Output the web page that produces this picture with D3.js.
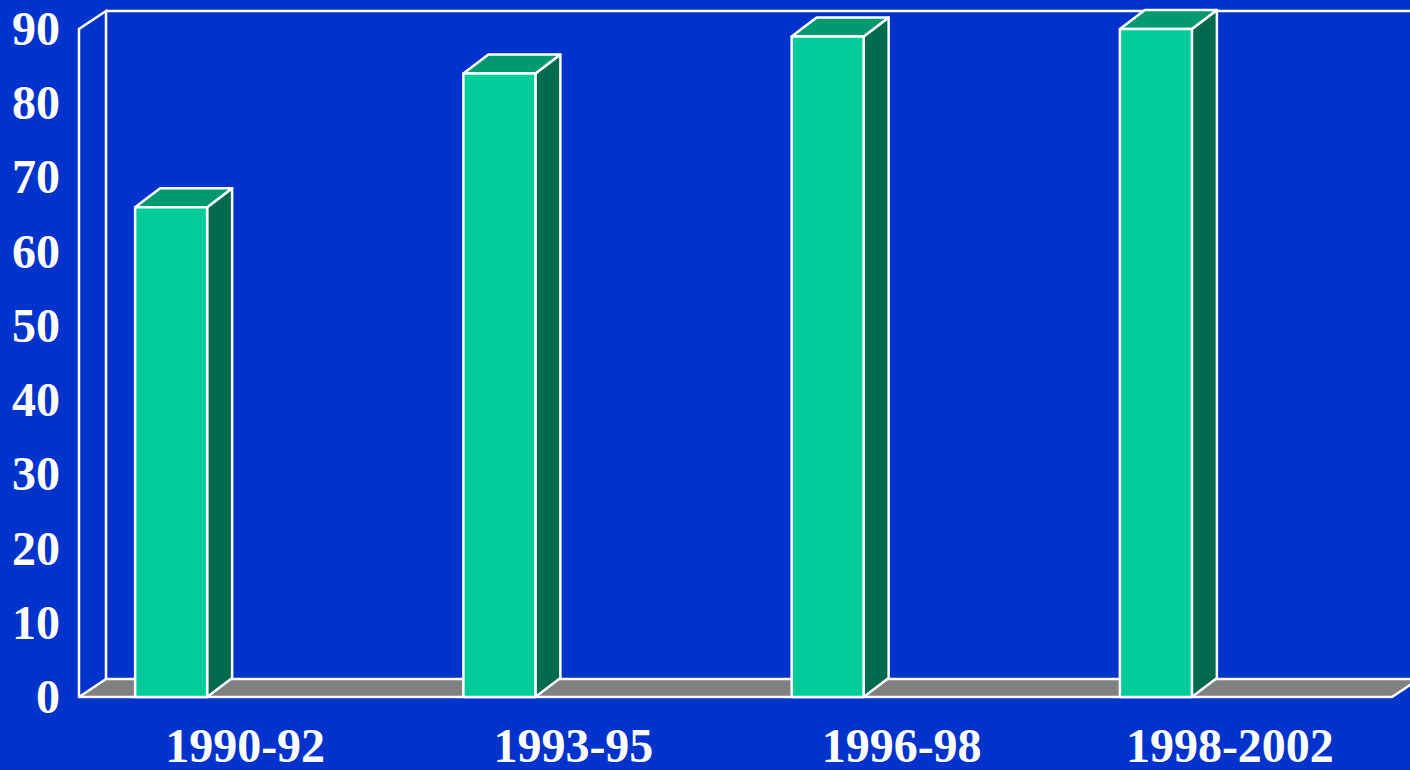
<!DOCTYPE html>
<html>
<head>
<meta charset="utf-8">
<script src="https://cdn.jsdelivr.net/npm/d3@7"></script>
<style>
body { margin: 0; background: #0033CC; }
svg { display: block; }
</style>
</head>
<body>
<div id="chart"></div>
<script>
//Width and height
var w = 1410;
var h = 770;

//Data
var categories = ["1990-92", "1993-95", "1996-98", "1998-2002"];
var values = [66, 84, 89, 90];
var yTicks = [0, 10, 20, 30, 40, 50, 60, 70, 80, 90];

//3D offsets
var wallDx = 27, wallDy = -18;
var barDx = 25, barDy = -19;

//Scales
var xScale = d3.scaleBand()
.domain(categories)
.range([79, 1392])
.padding(0);

var yScale = d3.scaleLinear()
.domain([0, 90])
.range([697, 29]);

var svg = d3.select("#chart")
.append("svg")
.attr("width", w)
.attr("height", h);

svg.append("rect")
.attr("width", w)
.attr("height", h)
.attr("fill", "#0033CC");

var y0 = yScale(0), yTop = yScale(90);
var x0 = xScale.range()[0], x1 = xScale.range()[1];

//Walls
var walls = svg.append("g")
.attr("fill", "none")
.attr("stroke", "white")
.attr("stroke-width", 2.5);

walls.append("path")
.attr("d", "M" + x0 + "," + y0 + "V" + yTop + "l" + wallDx + "," + wallDy +
  "V" + (y0 + wallDy) + "M" + (x0 + wallDx) + "," + (yTop + wallDy) + "H" + w);

//Floor
svg.append("path")
.attr("d", "M" + x0 + "," + y0 + "L" + (x0 + wallDx) + "," + (y0 + wallDy) +
  "H" + (x1 + wallDx) + "L" + x1 + "," + y0 + "Z")
.attr("fill", "#808080")
.attr("stroke", "white")
.attr("stroke-width", 2.5)
.attr("stroke-linejoin", "round");

//Bars
var bw = 72;
var bars = svg.append("g")
.attr("id", "bars")
.selectAll("g")
.data(values)
.enter()
.append("g")
.attr("stroke", "white")
.attr("stroke-width", 2.5)
.attr("stroke-linejoin", "round");

function bx(d, i) { return xScale(categories[i]) + xScale.bandwidth() * 0.171; }

bars.append("path")
.attr("fill", "#006A4E")
.attr("d", function(d, i) {
	var x = bx(d, i) + bw, y = yScale(d);
	return "M" + x + "," + y0 + "V" + y + "l" + barDx + "," + barDy +
	  "V" + (y0 + barDy) + "Z";
});

bars.append("path")
.attr("fill", "#009970")
.attr("d", function(d, i) {
	var x = bx(d, i), y = yScale(d);
	return "M" + x + "," + y + "l" + barDx + "," + barDy + "h" + bw +
	  "l" + (-barDx) + "," + (-barDy) + "Z";
});

bars.append("rect")
.attr("fill", "#00CC99")
.attr("x", function(d, i) { return bx(d, i); })
.attr("y", function(d) { return yScale(d); })
.attr("width", bw)
.attr("height", function(d) { return y0 - yScale(d); });

//Y labels
svg.append("g")
.selectAll("text")
.data(yTicks)
.enter()
.append("text")
.attr("x", 60)
.attr("y", function(d) { return yScale(d) + 16; })
.attr("text-anchor", "end")
.attr("fill", "white")
.attr("font-family", "'Liberation Serif', 'Times New Roman', serif")
.attr("font-weight", "bold")
.attr("font-size", 48)
.text(function(d) { return d; });

//X labels
svg.append("g")
.selectAll("text")
.data(categories)
.enter()
.append("text")
.attr("x", function(d) { return xScale(d) + xScale.bandwidth() / 2 + 2; })
.attr("y", 762)
.attr("text-anchor", "middle")
.attr("fill", "white")
.attr("font-family", "'Liberation Serif', 'Times New Roman', serif")
.attr("font-weight", "bold")
.attr("font-size", 48)
.text(function(d) { return d; });
</script>
</body>
</html>
